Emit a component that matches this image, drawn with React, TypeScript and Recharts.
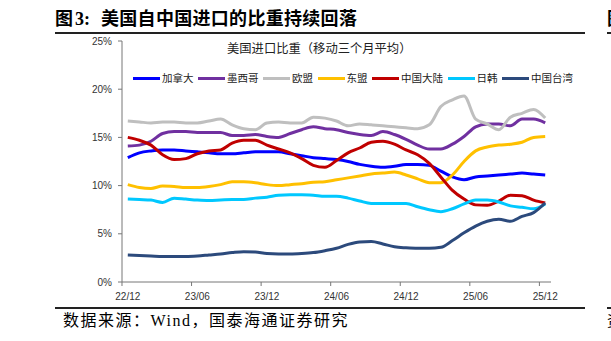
import { LineChart, Line, XAxis, YAxis, Legend } from "recharts";

const months = [
  "22/12",
  "23/01", "23/02", "23/03", "23/04", "23/05", "23/06",
  "23/07", "23/08", "23/09", "23/10", "23/11", "23/12",
  "24/01", "24/02", "24/03", "24/04", "24/05", "24/06",
  "24/07", "24/08", "24/09", "24/10", "24/11", "24/12",
  "25/01", "25/02", "25/03", "25/04", "25/05", "25/06",
  "25/07", "25/08", "25/09", "25/10", "25/11", "25/12",
];

// 美国进口比重（%），移动三个月平均
const canada = [12.9, 13.4, 13.6, 13.7, 13.7, 13.6, 13.5, 13.4, 13.3, 13.3, 13.4, 13.5, 13.5, 13.5, 13.3, 13.1, 12.9, 12.8, 12.7, 12.5, 12.2, 12.0, 11.9, 12.0, 12.2, 12.2, 12.1, 11.5, 10.9, 10.6, 10.9, 11.0, 11.1, 11.2, 11.3, 11.2, 11.1];
const mexico = [14.1, 14.2, 14.6, 15.4, 15.6, 15.6, 15.5, 15.5, 15.5, 15.2, 15.2, 15.3, 15.1, 15.0, 15.4, 15.8, 16.1, 15.9, 15.8, 15.5, 15.3, 15.2, 15.6, 15.3, 14.8, 14.2, 13.8, 13.8, 14.3, 15.1, 16.1, 16.4, 16.4, 16.2, 16.9, 16.9, 16.5];
const eu = [16.7, 16.6, 16.5, 16.6, 16.6, 16.5, 16.5, 16.7, 16.9, 16.3, 15.9, 15.8, 16.5, 16.6, 16.5, 16.5, 17.1, 17.0, 16.7, 16.2, 16.4, 16.3, 16.2, 16.1, 16.0, 15.9, 16.3, 18.2, 18.9, 19.3, 16.9, 16.4, 15.8, 17.1, 17.5, 17.9, 17.0];
const asean = [10.1, 9.8, 9.7, 9.95, 9.9, 9.8, 9.8, 9.9, 10.1, 10.4, 10.4, 10.3, 10.1, 10.0, 10.1, 10.2, 10.35, 10.4, 10.6, 10.8, 11.0, 11.2, 11.3, 11.4, 11.1, 10.7, 10.3, 10.3, 11.1, 12.5, 13.6, 14.0, 14.2, 14.3, 14.5, 15.0, 15.1];
const chinaMainland = [15.0, 14.7, 14.2, 13.2, 12.7, 12.8, 13.3, 13.6, 13.7, 14.4, 14.7, 14.7, 14.2, 13.8, 13.4, 12.8, 12.1, 11.9, 12.6, 13.4, 13.9, 14.5, 14.6, 14.3, 13.7, 13.2, 12.3, 10.9, 9.5, 8.6, 8.0, 7.95, 8.4, 9.0, 8.95, 8.5, 8.2];
const japanKorea = [8.6, 8.55, 8.5, 8.25, 8.7, 8.6, 8.5, 8.45, 8.5, 8.55, 8.55, 8.7, 8.8, 9.0, 9.05, 9.05, 9.0, 8.9, 8.9, 8.7, 8.4, 8.15, 8.15, 8.15, 8.15, 7.8, 7.5, 7.3, 7.6, 8.1, 8.5, 8.5, 8.3, 7.9, 7.75, 7.6, 8.1];
const taiwan = [2.8, 2.75, 2.7, 2.65, 2.65, 2.65, 2.7, 2.8, 2.9, 3.05, 3.15, 3.1, 2.95, 2.9, 2.9, 2.95, 3.05, 3.25, 3.5, 3.9, 4.15, 4.2, 3.95, 3.65, 3.55, 3.5, 3.5, 3.6, 4.3, 5.1, 5.8, 6.3, 6.5, 6.3, 6.8, 7.2, 8.2];

const yTicks = [0, 5, 10, 15, 20, 25];
const xTicks = [0, 6, 12, 18, 24, 30, 36];

const series = [
  { key: "canada", name: "加拿大", color: "#0000FF", values: canada },
  { key: "mexico", name: "墨西哥", color: "#7030A0", values: mexico },
  { key: "eu", name: "欧盟", color: "#BFBFBF", values: eu },
  { key: "asean", name: "东盟", color: "#FFC000", values: asean },
  { key: "chinaMainland", name: "中国大陆", color: "#C00000", values: chinaMainland },
  { key: "japanKorea", name: "日韩", color: "#00C8FF", values: japanKorea },
  { key: "taiwan", name: "中国台湾", color: "#2C4A7C", values: taiwan },
];

const rows = months.map((m, i) => {
  const row: Record<string, number | string> = { idx: i, month: m };
  series.forEach((s) => {
    row[s.key] = s.values[i];
  });
  return row;
});

const CJK = '"Noto Sans CJK SC", sans-serif';
const SERIF_CJK = '"Liberation Serif", "Noto Sans CJK SC", serif';
const AXIS = "#777";
// 一个月在横轴上的宽度（430px / 37）
const HALF_STEP = 430 / 37 / 2;

function MonthTick(props: any) {
  const { x, y, payload } = props;
  return (
    <g>
      <line x1={x - HALF_STEP} x2={x - HALF_STEP} y1={y - 11} y2={y - 7} stroke={AXIS} />
      <text x={x} y={y} dy="0.71em" textAnchor="middle" fontSize={10} fill="#333" fontFamily="Arial, 'Liberation Sans'">
        {months[payload.value]}
      </text>
    </g>
  );
}

// 图例按系列原本的顺序排列
function LegendRow(props: any) {
  const order = series.map((s) => s.name);
  const items = [...(props.payload || [])].sort(
    (a: any, b: any) => order.indexOf(a.value) - order.indexOf(b.value)
  );
  return (
    <div style={{ display: "flex", alignItems: "center", fontFamily: CJK, fontSize: 10.5, color: "#222", lineHeight: "14px" }}>
      {items.map((it: any) => (
        <div key={it.value} style={{ display: "flex", alignItems: "center", marginRight: 4.5 }}>
          <span style={{ width: 27, height: 3, background: it.color, display: "inline-block", marginRight: 2 }} />
          <span>{it.value}</span>
        </div>
      ))}
    </div>
  );
}

export default function App() {
  return (
    <div style={{ position: "absolute", left: 0, top: 0, width: 611, height: 341, overflow: "hidden", background: "#fff" }}>
      <div style={{ position: "absolute", left: 55, top: 9, fontFamily: SERIF_CJK, fontSize: 18, fontWeight: "bold", lineHeight: "20px", whiteSpace: "nowrap", color: "#000" }}>
        <span>图</span>
        <span style={{ marginLeft: 2 }}>3:</span>
        <span style={{ marginLeft: 11, letterSpacing: 0.3 }}>美国自中国进口的比重持续回落</span>
      </div>
      <div style={{ position: "absolute", left: 607, top: 9, fontFamily: SERIF_CJK, fontSize: 18, fontWeight: "bold", lineHeight: "20px" }}>图</div>
      <div style={{ position: "absolute", left: 55, top: 32, width: 530, height: 2, background: "#222" }} />
      <div style={{ position: "absolute", left: 607, top: 32, width: 10, height: 2, background: "#222" }} />

      <LineChart width={611} height={341} data={rows} margin={{ top: 41, right: 60, left: 0, bottom: 29 }}>
        <XAxis
          dataKey="idx"
          type="number"
          domain={[-0.5, 36.5]}
          ticks={xTicks}
          interval={0}
          height={30}
          axisLine={{ stroke: AXIS }}
          tickLine={false}
          tickSize={4}
          tickMargin={7}
          tick={<MonthTick />}
        />
        <YAxis
          width={122}
          domain={[0, 25]}
          ticks={yTicks}
          interval={0}
          tickFormatter={(v: number) => `${v}%`}
          axisLine={{ stroke: AXIS }}
          tickLine={{ stroke: AXIS }}
          tickSize={4}
          tickMargin={6}
          tick={{ fontSize: 10, fill: "#333", fontFamily: "Arial, 'Liberation Sans'" }}
        />
        <Legend
          layout="horizontal"
          verticalAlign="middle"
          align="center"
          wrapperStyle={{ top: 71, left: 133, width: 470 }}
          content={<LegendRow />}
        />
        {series.map((s) => (
          <Line
            key={s.key}
            dataKey={s.key}
            name={s.name}
            type="monotone"
            stroke={s.color}
            strokeWidth={3}
            dot={false}
            activeDot={false}
            isAnimationActive={false}
          />
        ))}
      </LineChart>

      <div style={{ position: "absolute", left: 227, top: 40, fontFamily: CJK, fontSize: 12.3, lineHeight: "16px", color: "#222", whiteSpace: "nowrap" }}>
        美国进口比重（移动三个月平均）
      </div>

      <div style={{ position: "absolute", left: 55, top: 307, width: 530, height: 2, background: "#222" }} />
      <div style={{ position: "absolute", left: 607, top: 307, width: 10, height: 2, background: "#222" }} />
      <div style={{ position: "absolute", left: 63, top: 312, fontFamily: SERIF_CJK, fontSize: 16, lineHeight: "18px", color: "#000", whiteSpace: "nowrap", letterSpacing: 1.5 }}>
        数据来源：Wind，国泰海通证券研究
      </div>
      <div style={{ position: "absolute", left: 607, top: 312, fontFamily: SERIF_CJK, fontSize: 15, lineHeight: "18px", color: "#000" }}>资</div>
    </div>
  );
}
